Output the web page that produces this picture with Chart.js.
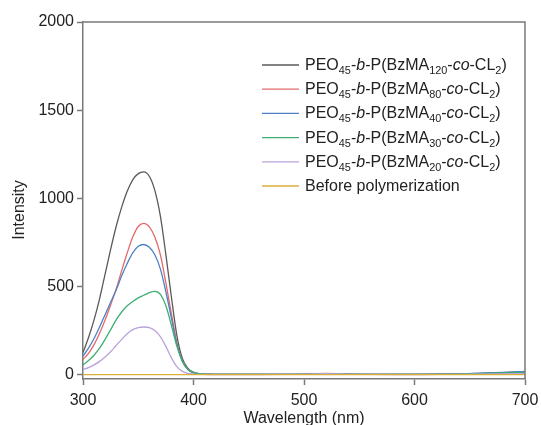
<!DOCTYPE html>
<html>
<head>
<meta charset="utf-8">
<script src="https://cdn.jsdelivr.net/npm/chart.js@4"></script>
<style>
  body { margin: 0; background: #fff; }
  #wrap { position: relative; width: 541px; height: 425px; }
  #legend { position: absolute; left: 305px; top: 53px; font-family: "Liberation Sans", Arial, sans-serif; font-size: 16px; color: #222; }
  .row { height: 24.2px; line-height: 24px; white-space: nowrap; }
  sub { font-size: 0.68em; vertical-align: -0.35em; line-height: 0; }
</style>
</head>
<body>
<div id="wrap">
  <canvas id="chart" width="541" height="425"></canvas>
  <div id="legend"></div>
</div>
<script>
// wavelength grid (nm)
const wavelengths = [300, 305, 310, 315, 320, 325, 330, 335, 340, 345, 350, 355, 360, 365, 370, 375, 380, 385, 390, 395, 400, 405, 410, 415, 420,
  440, 460, 480, 500, 520, 540, 560, 580, 600, 620, 640, 660, 680, 700];

const bzma120 = [125, 210, 310, 430, 570, 710, 840, 950, 1040, 1105, 1140, 1150, 1125, 1045, 900, 680, 440, 220, 90, 35, 13, 6, 3, 2, 1,
  1, 1, 1, 2, 3, 2, 1, 1, 1, 2, 4, 7, 11, 17];
const bzma80 = [85, 120, 170, 235, 310, 395, 485, 590, 690, 780, 840, 858, 838, 780, 680, 520, 345, 180, 75, 28, 10, 4, 2, 1, 1,
  1, 1, 1, 3, 7, 4, 1, 1, 1, 1, 2, 4, 6, 9];
const bzma40 = [105, 150, 205, 270, 340, 410, 480, 560, 630, 690, 728, 738, 722, 680, 600, 470, 320, 170, 75, 28, 10, 4, 2, 1, 1,
  1, 1, 1, 2, 4, 2, 1, 1, 1, 2, 4, 8, 12, 18];
const bzma30 = [55, 80, 110, 150, 200, 255, 310, 355, 390, 415, 435, 450, 465, 472, 455, 390, 280, 160, 75, 30, 12, 5, 2, 1, 1,
  1, 1, 1, 2, 4, 2, 1, 1, 1, 2, 3, 6, 9, 13];
const bzma20 = [28, 40, 55, 75, 100, 130, 165, 200, 232, 255, 266, 270, 266, 250, 215, 160, 95, 45, 18, 7, 3, 1, 1, 0, 0,
  0, 0, 1, 3, 6, 3, 1, 0, 0, 1, 1, 2, 4, 6];
const beforePoly = [0, 0, 0, 0, 0, 0, 0, 0, 0, 0, 0, 0, 0, 0, 0, 0, 0, 0, 0, 0, 0, 0, 0, 0, 0,
  0, 0, 0, 0, 0, 0, 0, 0, 0, 0, 0, 0, 0, 0];

const xTicks = [300, 400, 500, 600, 700];
const yTicks = [0, 500, 1000, 1500, 2000];

const seriesLabels = [
  'PEO<sub>45</sub>-<i>b</i>-P(BzMA<sub>120</sub>-<i>co</i>-CL<sub>2</sub>)',
  'PEO<sub>45</sub>-<i>b</i>-P(BzMA<sub>80</sub>-<i>co</i>-CL<sub>2</sub>)',
  'PEO<sub>45</sub>-<i>b</i>-P(BzMA<sub>40</sub>-<i>co</i>-CL<sub>2</sub>)',
  'PEO<sub>45</sub>-<i>b</i>-P(BzMA<sub>30</sub>-<i>co</i>-CL<sub>2</sub>)',
  'PEO<sub>45</sub>-<i>b</i>-P(BzMA<sub>20</sub>-<i>co</i>-CL<sub>2</sub>)',
  'Before polymerization'
];
const seriesData = [bzma120, bzma80, bzma40, bzma30, bzma20, beforePoly];
const colors = ['#5a5a5a', '#e36a6a', '#4f80c6', '#3fae72', '#b9a3dc', '#dcae3a'];

const axisGray = '#7a7a7a';
const font = { family: '"Liberation Sans", Arial, sans-serif', size: 16 };

// legend text as html so sub/italics stay real text
const legend = document.getElementById('legend');
seriesLabels.forEach(lbl => {
  const row = document.createElement('div');
  row.className = 'row';
  row.innerHTML = lbl;
  legend.appendChild(row);
});

// top/right frame lines, legend swatches, y title
const framePlugin = {
  id: 'frame',
  afterDraw(chart) {
    const a = chart.chartArea, c = chart.ctx;
    c.save();
    c.strokeStyle = axisGray;
    c.lineWidth = 1.5;
    c.beginPath();
    c.moveTo(a.left, a.top);
    c.lineTo(a.right, a.top);
    c.lineTo(a.right, a.bottom);
    c.stroke();
    c.lineWidth = 1.3;
    colors.forEach((col, i) => {
      const y = 65 + i * 24.2;
      c.strokeStyle = col;
      c.beginPath();
      c.moveTo(262, y);
      c.lineTo(299, y);
      c.stroke();
    });
    c.translate(20, 210);
    c.rotate(-Math.PI / 2);
    c.fillStyle = '#222';
    c.font = '16px "Liberation Sans", Arial, sans-serif';
    c.textAlign = 'center';
    c.textBaseline = 'middle';
    c.fillText('Intensity', 0, 0);
    c.restore();
  }
};

new Chart(document.getElementById('chart'), {
  type: 'line',
  data: {
    datasets: seriesData.map((d, i) => ({
      label: seriesLabels[i],
      data: d.map((v, j) => ({ x: wavelengths[j], y: v })),
      borderColor: colors[i],
      borderWidth: 1.3,
      pointRadius: 0,
      cubicInterpolationMode: 'monotone',
      fill: false
    })).reverse()
  },
  options: {
    responsive: false,
    animation: false,
    layout: { padding: { left: 0, top: 22, right: 16, bottom: 0 } },
    plugins: { legend: { display: false }, tooltip: { enabled: false } },
    scales: {
      x: {
        type: 'linear', min: 300, max: 700,
        afterBuildTicks: s => { s.ticks = xTicks.map(v => ({ value: v })); },
        afterFit: s => { s.height = 46; s.paddingRight = 0; s.paddingLeft = 0; },
        ticks: { font, color: '#222', padding: 6, maxRotation: 0, callback: v => String(v) },
        grid: { drawOnChartArea: false, tickLength: 6, tickColor: axisGray, tickWidth: 1.5 },
        border: { color: axisGray, width: 1.5 },
        title: { display: true, text: 'Wavelength (nm)', font, color: '#222', padding: { top: 0, bottom: -3 } }
      },
      y: {
        type: 'linear', min: -25, max: 2000,
        afterBuildTicks: s => { s.ticks = yTicks.map(v => ({ value: v })); },
        afterFit: s => { s.width = 83; s.paddingTop = 0; s.paddingBottom = 0; },
        ticks: { font, color: '#222', padding: 3, callback: v => String(v) },
        grid: { drawOnChartArea: false, tickLength: 6, tickColor: axisGray, tickWidth: 1.5 },
        border: { color: axisGray, width: 1.5 }
      }
    }
  },
  plugins: [framePlugin]
});
</script>
</body>
</html>
